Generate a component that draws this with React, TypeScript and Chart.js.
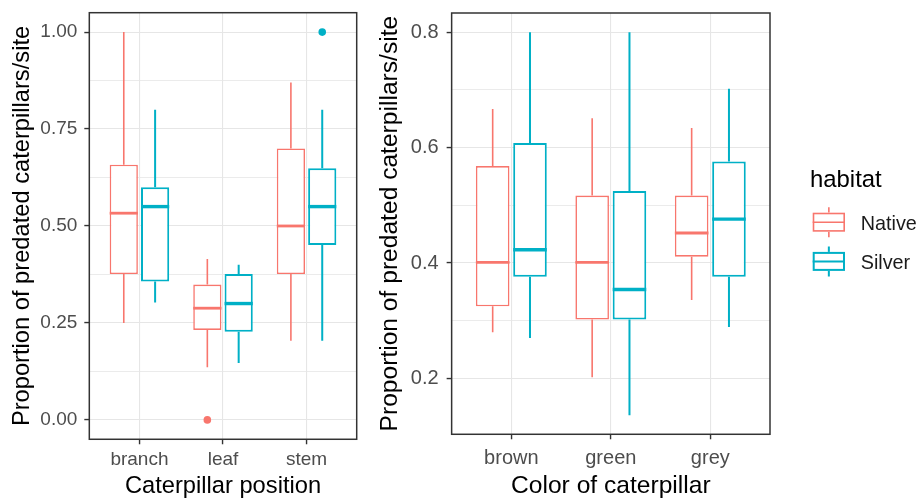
import React, { useEffect, useRef } from 'react';
import { Chart, registerables } from 'chart.js';

Chart.register(...registerables);

const FONT = "'Liberation Sans', Arial, Helvetica, sans-serif";
const TICK_COLOR = '#4D4D4D';
const TITLE_COLOR = '#000000';
const GRID_COLOR = '#E6E6E6';
const BORDER_COLOR = '#333333';

const seriesNames = ['Native', 'Silver'];
const seriesColors = ['#F8766D', '#00B0C6'];
const legendTitle = 'habitat';

// ---- Panel 1: Caterpillar position ----
const positionCategories = ['branch', 'leaf', 'stem'];
const positionNativeMin = [0.25, 0.136, 0.204];
const positionNativeQ1 = [0.376, 0.232, 0.376];
const positionNativeMedian = [0.533, 0.288, 0.5];
const positionNativeQ3 = [0.658, 0.349, 0.7];
const positionNativeMax = [1.0, 0.415, 0.87];
const positionNativeOutliers = [[], [0.0], []];
const positionSilverMin = [0.303, 0.147, 0.204];
const positionSilverQ1 = [0.357, 0.227, 0.451];
const positionSilverMedian = [0.55, 0.3, 0.55];
const positionSilverQ3 = [0.6, 0.376, 0.649];
const positionSilverMax = [0.8, 0.4, 0.8];
const positionSilverOutliers = [[], [], [1.0]];
const positionYMajor = [0, 0.25, 0.5, 0.75, 1.0];
const positionYLabels = ['0.00', '0.25', '0.50', '0.75', '1.00'];
const positionYMinor = [0.125, 0.375, 0.625, 0.875];
const positionXTitle = 'Caterpillar position';
const positionYTitle = 'Proportion of predated caterpillars/site';

// ---- Panel 2: Color of caterpillar ----
const colorCategories = ['brown', 'green', 'grey'];
const colorNativeMin = [0.28, 0.202, 0.336];
const colorNativeQ1 = [0.325, 0.302, 0.411];
const colorNativeMedian = [0.401, 0.401, 0.452];
const colorNativeQ3 = [0.568, 0.517, 0.517];
const colorNativeMax = [0.667, 0.651, 0.634];
const colorNativeOutliers = [[], [], []];
const colorSilverMin = [0.27, 0.136, 0.289];
const colorSilverQ1 = [0.376, 0.302, 0.376];
const colorSilverMedian = [0.423, 0.354, 0.476];
const colorSilverQ3 = [0.608, 0.525, 0.576];
const colorSilverMax = [0.8, 0.8, 0.702];
const colorSilverOutliers = [[], [], []];
const colorYMajor = [0.2, 0.4, 0.6, 0.8];
const colorYLabels = ['0.2', '0.4', '0.6', '0.8'];
const colorYMinor = [0.3, 0.5, 0.7];
const colorXTitle = 'Color of caterpillar';
const colorYTitle = 'Proportion of predated caterpillars/site';

type Stats = { min: number[]; q1: number[]; med: number[]; q3: number[]; max: number[]; out: number[][] };

const boxplotPlugin = {
  id: 'boxplotParts',
  afterDatasetsDraw(chart: any) {
    const ctx = chart.ctx;
    const ys = chart.scales.y;
    chart.data.datasets.forEach((ds: any, di: number) => {
      if (!ds.boxStats) return;
      const meta = chart.getDatasetMeta(di);
      const st: Stats = ds.boxStats;
      ctx.save();
      ctx.strokeStyle = ds.borderColor;
      ctx.fillStyle = ds.borderColor;
      ctx.lineCap = 'butt';
      meta.data.forEach((bar: any, i: number) => {
        const { x, width } = bar.getProps(['x', 'width'], true);
        const yq1 = ys.getPixelForValue(st.q1[i]);
        const yq3 = ys.getPixelForValue(st.q3[i]);
        const ymin = ys.getPixelForValue(st.min[i]);
        const ymax = ys.getPixelForValue(st.max[i]);
        const ymed = ys.getPixelForValue(st.med[i]);
        ctx.lineWidth = ds.whiskerWidth;
        ctx.beginPath();
        ctx.moveTo(x, yq3);
        ctx.lineTo(x, ymax);
        ctx.moveTo(x, yq1);
        ctx.lineTo(x, ymin);
        ctx.stroke();
        ctx.lineWidth = ds.medianWidth;
        ctx.beginPath();
        ctx.moveTo(x - width / 2, ymed);
        ctx.lineTo(x + width / 2, ymed);
        ctx.stroke();
        (st.out[i] || []).forEach((o: number) => {
          ctx.beginPath();
          ctx.arc(x, ys.getPixelForValue(o), 3.8, 0, Math.PI * 2);
          ctx.fill();
        });
      });
      ctx.restore();
    });
  },
};

const panelBorderPlugin = {
  id: 'panelBorder',
  afterDraw(chart: any) {
    const { ctx, chartArea } = chart;
    ctx.save();
    ctx.strokeStyle = BORDER_COLOR;
    ctx.lineWidth = 1.5;
    ctx.strokeRect(chartArea.left, chartArea.top, chartArea.right - chartArea.left, chartArea.bottom - chartArea.top);
    ctx.restore();
  },
};

const boxLegendPlugin = {
  id: 'boxLegend',
  afterDraw(chart: any, _args: any, opts: any) {
    if (!opts || !opts.display) return;
    const { ctx, chartArea } = chart;
    const x0 = chartArea.right;
    ctx.save();
    ctx.fillStyle = TITLE_COLOR;
    ctx.font = `${opts.titleSize}px ${FONT}`;
    ctx.textBaseline = 'middle';
    ctx.textAlign = 'left';
    ctx.fillText(opts.title, x0 + opts.titleDx, opts.titleY);
    chart.data.datasets.forEach((ds: any, i: number) => {
      const cy = opts.itemY[i];
      const bx = x0 + opts.glyphDx;
      const bw = opts.glyphW;
      const bh = opts.glyphH;
      const lw = ds.borderWidth;
      ctx.strokeStyle = ds.borderColor;
      ctx.lineWidth = lw;
      ctx.beginPath();
      ctx.moveTo(bx + bw / 2, cy - bh / 2 - opts.whisker);
      ctx.lineTo(bx + bw / 2, cy - bh / 2);
      ctx.moveTo(bx + bw / 2, cy + bh / 2);
      ctx.lineTo(bx + bw / 2, cy + bh / 2 + opts.whisker);
      ctx.stroke();
      ctx.fillStyle = '#FFFFFF';
      ctx.fillRect(bx, cy - bh / 2, bw, bh);
      ctx.strokeRect(bx + lw / 2, cy - bh / 2 + lw / 2, bw - lw, bh - lw);
      ctx.beginPath();
      ctx.moveTo(bx, cy);
      ctx.lineTo(bx + bw, cy);
      ctx.stroke();
      ctx.fillStyle = '#1A1A1A';
      ctx.font = `${opts.labelSize}px ${FONT}`;
      ctx.fillText(ds.label, x0 + opts.labelDx, cy + opts.labelDy);
    });
    ctx.restore();
  },
};

type PanelSpec = {
  categories: string[];
  native: Stats;
  silver: Stats;
  yMin: number;
  yMax: number;
  yMajor: number[];
  yLabels: string[];
  yMinor: number[];
  xTitle: string;
  yTitle: string;
  padding: { left: number; right: number; top: number; bottom: number };
  tickSize: number;
  titleSize: number;
  yTickPad: number;
  xTickPad: number;
  yTickLH: number;
  xTitleLH: number;
  yTitleLH: number;
  yTitlePad: { top: number; bottom: number };
  xTitlePad: { top: number; bottom: number };
  legend: any;
};

function makeDataset(name: string, color: string, st: Stats, lw: number, medW: number) {
  return {
    type: 'bar',
    label: name,
    data: st.q1.map((q, i) => ({ x: i + 1, y: [q, st.q3[i]] })),
    backgroundColor: '#FFFFFF',
    borderColor: color,
    borderWidth: lw,
    borderSkipped: false,
    categoryPercentage: 0.75,
    barPercentage: 0.9,
    boxStats: st,
    whiskerWidth: lw,
    medianWidth: medW,
  };
}

function makeConfig(p: PanelSpec): any {
  const isMajor = (v: number) => p.yMajor.some((m) => Math.abs(m - v) < 1e-9);
  return {
    type: 'bar',
    data: {
      datasets: [
        makeDataset(seriesNames[0], seriesColors[0], p.native, 1.6, 2.8),
        makeDataset(seriesNames[1], seriesColors[1], p.silver, 2, 3.4),
      ],
    },
    options: {
      responsive: false,
      animation: false,
      events: [],
      layout: { padding: p.padding },
      plugins: {
        legend: { display: false },
        tooltip: { enabled: false },
        boxLegend: p.legend,
      },
      scales: {
        x: {
          type: 'linear',
          min: 0.4,
          max: p.categories.length + 0.6,
          offset: false,
          afterBuildTicks: (s: any) => {
            s.ticks = p.categories.map((_, i) => ({ value: i + 1 }));
          },
          ticks: {
            autoSkip: false,
            maxRotation: 0,
            padding: p.xTickPad,
            color: TICK_COLOR,
            font: { family: FONT, size: p.tickSize, lineHeight: 1.2 },
            callback: (v: number) => p.categories[Math.round(v) - 1] ?? '',
          },
          grid: {
            offset: false,
            color: GRID_COLOR,
            lineWidth: 1.1,
            tickLength: 5,
            tickColor: BORDER_COLOR,
            tickWidth: 1.4,
          },
          border: { display: false },
          title: {
            display: true,
            text: p.xTitle,
            color: TITLE_COLOR,
            font: { family: FONT, size: p.titleSize, lineHeight: p.xTitleLH },
            padding: p.xTitlePad,
          },
        },
        y: {
          type: 'linear',
          min: p.yMin,
          max: p.yMax,
          afterBuildTicks: (s: any) => {
            s.ticks = [...p.yMajor, ...p.yMinor].sort((a, b) => a - b).map((v) => ({ value: v }));
          },
          ticks: {
            autoSkip: false,
            padding: p.yTickPad,
            color: TICK_COLOR,
            font: { family: FONT, size: p.tickSize, lineHeight: p.yTickLH },
            callback: (v: number) => {
              const idx = p.yMajor.findIndex((m) => Math.abs(m - v) < 1e-9);
              return idx >= 0 ? p.yLabels[idx] : '';
            },
          },
          grid: {
            color: GRID_COLOR,
            lineWidth: (c: any) => (c.tick && isMajor(c.tick.value) ? 1.1 : 0.8),
            tickLength: 5,
            tickColor: (c: any) => (c.tick && isMajor(c.tick.value) ? BORDER_COLOR : 'rgba(0,0,0,0)'),
            tickWidth: 1.4,
          },
          border: { display: false },
          title: {
            display: true,
            text: p.yTitle,
            color: TITLE_COLOR,
            font: { family: FONT, size: p.titleSize, lineHeight: p.yTitleLH },
            padding: p.yTitlePad,
          },
        },
      },
    },
    plugins: [boxplotPlugin, panelBorderPlugin, boxLegendPlugin],
  };
}

function Panel({ spec, left, width }: { spec: PanelSpec; left: number; width: number }) {
  const ref = useRef<HTMLCanvasElement | null>(null);
  useEffect(() => {
    if (!ref.current) return;
    const chart = new Chart(ref.current, makeConfig(spec));
    return () => chart.destroy();
  }, []);
  return (
    <canvas
      ref={ref}
      width={width}
      height={500}
      style={{ position: 'absolute', left, top: 0, width, height: 500, display: 'block' }}
    />
  );
}

const positionSpec: PanelSpec = {
  categories: positionCategories,
  native: { min: positionNativeMin, q1: positionNativeQ1, med: positionNativeMedian, q3: positionNativeQ3, max: positionNativeMax, out: positionNativeOutliers },
  silver: { min: positionSilverMin, q1: positionSilverQ1, med: positionSilverMedian, q3: positionSilverQ3, max: positionSilverMax, out: positionSilverOutliers },
  yMin: -0.05,
  yMax: 1.05,
  yMajor: positionYMajor,
  yLabels: positionYLabels,
  yMinor: positionYMinor,
  xTitle: positionXTitle,
  yTitle: positionYTitle,
  padding: { left: 5, right: 13.3, top: 12.7, bottom: 0 },
  tickSize: 19,
  titleSize: 23.7,
  yTickPad: 7,
  xTickPad: 4.3,
  yTickLH: 0.5,
  xTitleLH: 0.9,
  yTitleLH: 0.9,
  yTitlePad: { top: 6.8, bottom: 0.2 },
  xTitlePad: { top: 0, bottom: 3 },
  legend: { display: false },
};

const colorSpec: PanelSpec = {
  categories: colorCategories,
  native: { min: colorNativeMin, q1: colorNativeQ1, med: colorNativeMedian, q3: colorNativeQ3, max: colorNativeMax, out: colorNativeOutliers },
  silver: { min: colorSilverMin, q1: colorSilverQ1, med: colorSilverMedian, q3: colorSilverQ3, max: colorSilverMax, out: colorSilverOutliers },
  yMin: 0.103,
  yMax: 0.8335,
  yMajor: colorYMajor,
  yLabels: colorYLabels,
  yMinor: colorYMinor,
  xTitle: colorXTitle,
  yTitle: colorYTitle,
  padding: { left: 3, right: 150, top: 13, bottom: 0 },
  tickSize: 20,
  titleSize: 24.6,
  yTickPad: 8,
  xTickPad: 7,
  yTickLH: 0.4,
  xTitleLH: 0.7,
  yTitleLH: 0.9,
  yTitlePad: { top: 5.9, bottom: 1.8 },
  xTitlePad: { top: 0.8, bottom: 4.7 },
  legend: {
    display: true,
    title: legendTitle,
    titleSize: 23.9,
    titleDx: 40,
    titleY: 180.7,
    glyphDx: 42.7,
    glyphW: 32.3,
    glyphH: 19,
    whisker: 5.5,
    itemY: [222.2, 261.4],
    labelDx: 90.7,
    labelDy: 2,
    labelSize: 19.8,
  },
};

export default function App() {
  return (
    <div style={{ position: 'fixed', left: 0, top: 0, width: 920, height: 500, background: '#FFFFFF' }}>
      <Panel spec={positionSpec} left={0} width={370} />
      <Panel spec={colorSpec} left={370} width={550} />
    </div>
  );
}
